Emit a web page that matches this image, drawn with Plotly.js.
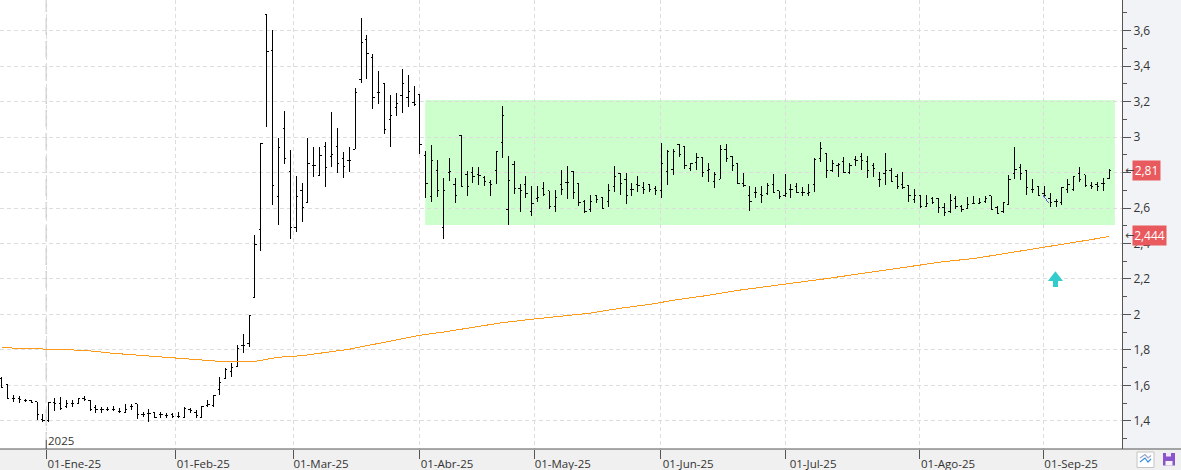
<!DOCTYPE html>
<html><head><meta charset="utf-8">
<script src="https://cdn.plot.ly/plotly-3.0.1.min.js"></script>
<style>html,body{margin:0;padding:0;background:#f0f0f0}#c{width:1181px;height:470px}.js-line{shape-rendering:crispEdges}.ohlclayer path{shape-rendering:crispEdges!important}</style>
</head><body><div id="c"></div>
<script>
const openVals=[1.64,1.603,1.528,1.528,1.513,1.514,1.509,1.406,1.40,1.503,
1.50,1.481,1.50,1.50,1.524,1.518,1.477,1.466,1.462,1.466,
1.453,1.449,1.481,1.496,1.434,1.443,1.449,1.434,1.43,1.438,
1.424,1.421,1.466,1.449,1.421,1.485,1.487,1.575,1.64,1.678,
1.708,1.828,1.838,2.095,2.48,3.69,3.486,2.664,3.049,2.807,
2.491,2.70,2.632,2.84,2.784,2.947,2.891,2.947,2.88,2.869,
2.93,3.325,3.55,3.449,3.252,3.302,3.10,3.167,3.235,3.224,
3.193,3.24,2.895,2.666,2.812,2.491,2.801,2.735,3.011,2.791,
2.801,2.788,2.771,2.745,2.812,2.97,2.589,2.846,2.711,2.733,
2.58,2.654,2.711,2.696,2.611,2.73,2.745,2.808,2.739,2.636,
2.592,2.67,2.66,2.638,2.722,2.795,2.762,2.705,2.733,2.716,
2.73,2.711,2.701,2.803,2.818,2.96,2.945,2.823,2.855,2.885,
2.81,2.748,2.761,2.931,2.893,2.848,2.74,2.673,2.688,2.677,
2.683,2.733,2.698,2.673,2.705,2.72,2.686,2.683,2.735,2.88,
2.908,2.81,2.842,2.861,2.801,2.875,2.893,2.861,2.84,2.763,
2.795,2.814,2.776,2.73,2.728,2.649,2.671,2.611,2.651,2.655,
2.604,2.579,2.655,2.611,2.598,2.626,2.626,2.636,2.67,2.604,
2.579,2.622,2.792,2.827,2.814,2.705,2.72,2.683,2.654,2.634,
2.63,2.705,2.705,2.795,2.786,2.724,2.73,2.739,2.767];
const highVals=[1.65,1.603,1.546,1.541,1.522,1.518,1.509,1.438,1.509,1.528,
1.533,1.518,1.518,1.528,1.541,1.518,1.488,1.481,1.477,1.485,
1.475,1.496,1.496,1.496,1.453,1.466,1.453,1.449,1.443,1.443,
1.453,1.477,1.471,1.462,1.485,1.518,1.546,1.646,1.697,1.729,
1.828,1.89,1.992,2.448,2.964,3.691,3.603,2.992,3.145,2.925,
2.78,2.741,2.992,2.944,2.944,2.97,3.141,3.051,2.914,2.944,
3.274,3.669,3.575,3.466,3.372,3.302,3.237,3.248,3.383,3.349,
3.287,3.24,2.921,2.955,2.87,2.769,2.88,2.769,3.011,2.808,
2.829,2.829,2.78,2.758,2.917,3.175,2.893,2.865,2.735,2.78,
2.724,2.724,2.747,2.696,2.701,2.814,2.837,2.808,2.739,2.645,
2.671,2.673,2.66,2.735,2.837,2.795,2.795,2.739,2.78,2.748,
2.73,2.724,2.964,2.927,2.93,2.96,2.945,2.855,2.908,2.885,
2.852,2.805,2.955,2.959,2.893,2.848,2.795,2.724,2.72,2.724,
2.739,2.79,2.698,2.792,2.733,2.739,2.716,2.733,2.88,2.97,
2.908,2.87,2.852,2.885,2.852,2.895,2.908,2.893,2.852,2.801,
2.908,2.823,2.792,2.801,2.728,2.707,2.671,2.671,2.66,2.658,
2.63,2.677,2.668,2.617,2.664,2.668,2.655,2.67,2.67,2.609,
2.636,2.786,2.945,2.848,2.814,2.763,2.724,2.724,2.686,2.649,
2.716,2.761,2.78,2.829,2.786,2.748,2.745,2.767,2.818];
const lowVals=[1.584,1.524,1.509,1.50,1.507,1.50,1.406,1.396,1.396,1.458,
1.462,1.475,1.481,1.496,1.515,1.458,1.447,1.447,1.454,1.458,
1.447,1.443,1.462,1.409,1.424,1.396,1.415,1.419,1.419,1.419,
1.415,1.419,1.447,1.419,1.419,1.477,1.481,1.546,1.64,1.646,
1.706,1.785,1.819,2.095,2.36,3.058,2.619,2.506,2.85,2.427,
2.465,2.523,2.632,2.777,2.782,2.72,2.833,2.799,2.771,2.803,
2.93,3.306,3.325,3.16,3.188,3.019,2.946,3.118,3.135,3.171,
3.176,2.906,2.658,2.636,2.664,2.427,2.754,2.63,2.72,2.668,
2.743,2.731,2.724,2.668,2.735,2.884,2.504,2.679,2.579,2.658,
2.557,2.636,2.668,2.596,2.579,2.673,2.653,2.649,2.611,2.574,
2.579,2.63,2.592,2.608,2.692,2.673,2.622,2.668,2.692,2.679,
2.692,2.673,2.658,2.731,2.788,2.885,2.822,2.81,2.814,2.777,
2.746,2.715,2.761,2.861,2.81,2.733,2.716,2.585,2.658,2.63,
2.673,2.683,2.649,2.664,2.655,2.683,2.67,2.67,2.692,2.861,
2.771,2.801,2.777,2.799,2.792,2.838,2.814,2.771,2.777,2.72,
2.73,2.748,2.707,2.709,2.636,2.626,2.598,2.604,2.622,2.574,
2.555,2.57,2.596,2.579,2.596,2.622,2.621,2.63,2.592,2.57,
2.574,2.617,2.761,2.758,2.673,2.683,2.668,2.654,2.604,2.604,
2.619,2.686,2.698,2.746,2.72,2.705,2.698,2.698,2.765];
const closeVals=[1.588,1.528,1.528,1.522,1.517,1.503,1.434,1.40,1.505,1.50,
1.471,1.50,1.496,1.524,1.522,1.466,1.466,1.466,1.466,1.466,
1.453,1.466,1.481,1.438,1.438,1.443,1.421,1.434,1.43,1.424,
1.424,1.473,1.458,1.428,1.481,1.49,1.546,1.616,1.69,1.70,
1.81,1.823,1.992,2.395,2.964,3.48,2.728,2.942,2.88,2.491,
2.666,2.604,2.852,2.837,2.897,2.829,2.902,2.852,2.835,2.869,
3.252,3.533,3.471,3.224,3.252,3.043,3.122,3.19,3.302,3.257,
3.186,2.959,2.739,2.869,2.70,2.70,2.807,2.671,2.72,2.722,
2.778,2.784,2.748,2.73,2.917,3.122,2.756,2.711,2.701,2.683,
2.626,2.66,2.677,2.608,2.66,2.707,2.745,2.688,2.63,2.579,
2.639,2.649,2.598,2.701,2.778,2.739,2.671,2.705,2.724,2.705,
2.705,2.701,2.852,2.917,2.921,2.904,2.838,2.85,2.885,2.801,
2.818,2.79,2.931,2.88,2.842,2.739,2.724,2.639,2.688,2.673,
2.724,2.686,2.664,2.679,2.705,2.686,2.686,2.688,2.874,2.936,
2.81,2.852,2.846,2.801,2.842,2.867,2.865,2.814,2.823,2.758,
2.81,2.748,2.72,2.714,2.673,2.668,2.607,2.626,2.63,2.602,
2.574,2.641,2.611,2.589,2.617,2.626,2.63,2.655,2.592,2.57,
2.63,2.758,2.818,2.795,2.716,2.705,2.671,2.671,2.63,2.634,
2.716,2.73,2.776,2.761,2.724,2.72,2.72,2.739,2.814];
const barIndex=openVals.map((_,i)=>i);

const avgIndex=[0,4,9,14,19,24,29,34,37,43,47,51,55,59,62,66,71,75,80,85,90,95,100,105,110,115,120,125,129,131,135,140,145,150,155,160,165,170,175,180,185,188];
const avgVals=[1.813,1.809,1.804,1.798,1.781,1.768,1.753,1.742,1.736,1.736,1.759,1.768,1.785,1.804,1.824,1.851,1.883,1.901,1.928,1.954,1.973,1.992,2.008,2.035,2.057,2.085,2.108,2.136,2.153,2.159,2.18,2.202,2.226,2.249,2.271,2.298,2.315,2.341,2.367,2.395,2.422,2.44];

const signalIndex=[178.9,178.9];
const signalStem=[2.155,2.194];
const signalHead=[2.207];

const xTickPos=[7.57,29.47,49.46,70.85,90.5,111.8,133,155.9,176.8];
const xTickText=["01-Ene-25","01-Feb-25","01-Mar-25","01-Abr-25","01-May-25","01-Jun-25","01-Jul-25","01-Ago-25","01-Sep-25"];
const yTickVals=[1.4,1.6,1.8,2,2.2,2.4,2.6,2.8,3,3.2,3.4,3.6];
const yTickText=["1,4","1,6","1,8","2","2,2","2,4","2,6","","3","3,2","3,4","3,6"];
const yMinor=[1.3,1.5,1.7,1.9,2.1,2.3,2.5,2.7,2.9,3.1,3.3,3.5,3.7];

const FONT='"Open Sans", sans-serif', PW=1122, PH=449;
const px=x=>x/PW, py=y=>1-y/PH;
const P=(x,y)=>px(x)+','+py(y);
const paperRect=(x0,y0,x1,y1,fill,line,layer)=>({type:'rect',xref:'paper',yref:'paper',x0:px(x0),x1:px(x1),y0:py(y0),y1:py(y1),fillcolor:fill,line:{width:line?1:0,color:line||fill},layer:layer||'above'});

const shapes=[
 paperRect(1122,0,1181,449,'#f2f3f7',null,'below'),
 {type:'rect',xref:'x',yref:'y',x0:71.9,x1:189,y0:2.504,y1:3.208,fillcolor:'#ccffcc',line:{width:0},layer:'below'},
 {type:'line',xref:'x',yref:'paper',x0:7.57,x1:7.57,y0:0,y1:1,line:{color:'#cfcfcf',width:1.5,dash:'17px,6px'},layer:'below'},
 {type:'line',xref:'paper',yref:'paper',x0:0,x1:px(1181),y0:0,y1:0,line:{color:'#555555',width:1},layer:'above'},
 {type:'line',xref:'x',yref:'paper',x0:7.57,x1:7.57,y0:py(440),y1:py(449),line:{color:'#555555',width:1},layer:'above'},
 paperRect(1137,452,1154,467.5,'#ffffff','#c4c4c4'),
 {type:'path',xref:'paper',yref:'paper',path:'M'+P(1140,458)+'L'+P(1145,454.5)+'L'+P(1148,458)+'L'+P(1151,455.5),line:{color:'#9aa6c8',width:1.2},layer:'above'},
 {type:'path',xref:'paper',yref:'paper',path:'M'+P(1140,462)+'L'+P(1145,458)+'L'+P(1148,462)+'L'+P(1151,459),line:{color:'#3a8ee0',width:1.2},layer:'above'},
 paperRect(1163,453,1175,465.5,'#8a55cc'),
 paperRect(1166,453,1171,456.5,'#f0e8fa'),
 paperRect(1165.5,461,1172.5,465.5,'#f4f4f4')
];

const annotations=[
 {xref:'x',yref:'y',x:7.86,y:1.292,text:'2025',showarrow:false,xanchor:'left',yanchor:'middle',xshift:-2,font:{family:FONT,size:11.5,color:'#333333'}},
 {xref:'paper',yref:'y',x:px(1132),y:2.81,text:'2,81',showarrow:false,xanchor:'left',yanchor:'middle',bgcolor:'#e85a5e',width:27,height:19,borderpad:0,font:{family:FONT,size:12,color:'#ffffff'}},
 {xref:'paper',yref:'y',x:px(1132),y:2.444,text:'2,444',showarrow:false,xanchor:'left',yanchor:'middle',bgcolor:'#e85a5e',width:33,height:19,borderpad:0,font:{family:FONT,size:12,color:'#ffffff'}},
 {xref:'paper',yref:'y',x:px(1123),y:2.81,text:'←',showarrow:false,xanchor:'left',yanchor:'middle',font:{family:'DejaVu Sans',size:11,color:'#444444'}},
 {xref:'paper',yref:'y',x:px(1123),y:2.444,text:'←',showarrow:false,xanchor:'left',yanchor:'middle',font:{family:'DejaVu Sans',size:11,color:'#444444'}}
];

const traces=[
 {type:'scatter',mode:'lines',x:avgIndex,y:avgVals,line:{color:'#ff9a1a',width:1},hoverinfo:'skip'},
 {type:'ohlc',x:barIndex,open:openVals,high:highVals,low:lowVals,close:closeVals,tickwidth:0.3,
  increasing:{line:{color:'#000000',width:1}},decreasing:{line:{color:'#000000',width:1}},hoverinfo:'skip'},
 {type:'scatter',mode:'lines',x:[176.8,177.7],y:[2.673,2.63],line:{color:'#6a55dd',width:1},hoverinfo:'skip'},
 {type:'scatter',mode:'lines',x:signalIndex,y:signalStem,line:{color:'#33cccc',width:5},hoverinfo:'skip'},
 {type:'scatter',mode:'markers',x:[signalIndex[0]],y:signalHead,marker:{symbol:'triangle-up',size:13,color:'#33cccc',line:{width:0}},hoverinfo:'skip'}
];

const layout={
 width:1181,height:470,showlegend:false,dragmode:false,
 margin:{l:0,r:59,t:0,b:21,pad:0},
 paper_bgcolor:'#f0f0f0',plot_bgcolor:'#ffffff',
 font:{family:FONT,size:12,color:'#333333'},
 xaxis:{type:'linear',range:[-0.289,190.2],tickmode:'array',tickvals:xTickPos,ticktext:xTickText,
  showgrid:true,gridcolor:'#dddddd',griddash:'4px,3px',gridwidth:1,zeroline:false,
  ticks:'outside',ticklen:9,tickcolor:'#555555',tickfont:{family:FONT,size:11.5,color:'#333333'},
  ticklabelshift:28,ticklabelstandoff:-5,showline:false,fixedrange:true,rangeslider:{visible:false},automargin:false},
 yaxis:{type:'linear',side:'right',range:[1.242,3.772],tickmode:'array',tickvals:yTickVals,ticktext:yTickText,
  showgrid:true,gridcolor:'#dddddd',griddash:'4px,3px',gridwidth:1,zeroline:false,
  ticks:'outside',ticklen:8,tickcolor:'#555555',tickfont:{family:FONT,size:12,color:'#333333'},
  showline:true,linecolor:'#555555',linewidth:1,fixedrange:true,automargin:false,
  minor:{tickmode:'array',tickvals:yMinor,ticks:'outside',ticklen:4,tickcolor:'#555555',showgrid:false}},
 shapes,annotations
};
Plotly.newPlot('c',traces,layout,{displayModeBar:false,staticPlot:true});
</script></body></html>
